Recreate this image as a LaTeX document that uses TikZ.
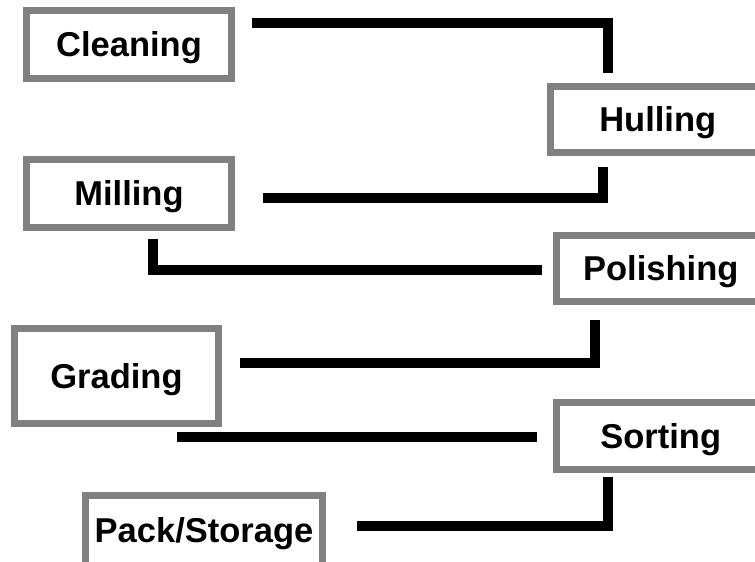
\documentclass[tikz,border=0pt]{standalone}
\usepackage{fontspec}
\setmainfont{Liberation Sans}
\usepackage{tikz}
\usetikzlibrary{calc}

\begin{document}
\begin{tikzpicture}[
  x=1pt, y=1pt,
  stage/.style = {draw=gray, line width=7pt, rectangle, fill=white,
                  font=\fontsize{34.5}{40}\selectfont\bfseries,
                  text height=25pt, text depth=0pt, inner sep=0pt},
  link/.style  = {draw=black, line width=10pt, line join=miter},
]
  \useasboundingbox (0,0) rectangle (755,562);
  \clip (0,0) rectangle (755,562);

%--- left column ---
  \node[stage, minimum width=205, minimum height=68] (clean) at (129,517.5) {Cleaning};
  \node[stage, minimum width=205, minimum height=68] (mill)  at (129,368.5) {Milling};
  \node[stage, minimum width=204, minimum height=95] (grad)  at (116.5,186) {Grading};
  \node[stage, minimum width=237, minimum height=70] (pack)  at (204,31.5)  {Pack/Storage};

%--- right column (cut by the page edge) ---
  \node[stage, minimum width=214.5, minimum height=66] (hull) at (657.75,442.5) {Hulling};
  \node[stage, minimum width=208.5, minimum height=66] (pol)  at (660.75,293.5) {Polishing};
  \node[stage, minimum width=208.5, minimum height=67] (sort) at (660.75,126)   {Sorting};

%--- connectors, ends kept clear of the boxes ---
  \coordinate (c1a) at ($(clean.north east)+(17,-16)$);
  \coordinate (c1b) at ($(hull.north west)+(61,10)$);
  \draw[link] (c1a) -| (c1b);

  \coordinate (c2a) at ($(hull.south west)+(56,-11)$);
  \coordinate (c2b) at ($(mill.east)+(28,-4.5)$);
  \draw[link] (c2a) |- (c2b);

  \coordinate (c3a) at ($(mill.south west)+(130,-8)$);
  \coordinate (c3b) at ($(pol.west)+(-11,-1.5)$);
  \draw[link] (c3a) |- (c3b);

  \coordinate (c4a) at ($(pol.south west)+(42,-15)$);
  \coordinate (c4b) at ($(grad.east)+(18,13)$);
  \draw[link] (c4a) |- (c4b);

  \coordinate (c5a) at ($(grad.south west)+(166,-10)$);
  \coordinate (c5b) at ($(sort.west)+(-16,-1)$);
  \draw[link] (c5a) -- (c5b);

  \coordinate (c6a) at ($(sort.south west)+(55,-4)$);
  \coordinate (c6b) at ($(pack.east)+(31,4.5)$);
  \draw[link] (c6a) |- (c6b);
\end{tikzpicture}
\end{document}
